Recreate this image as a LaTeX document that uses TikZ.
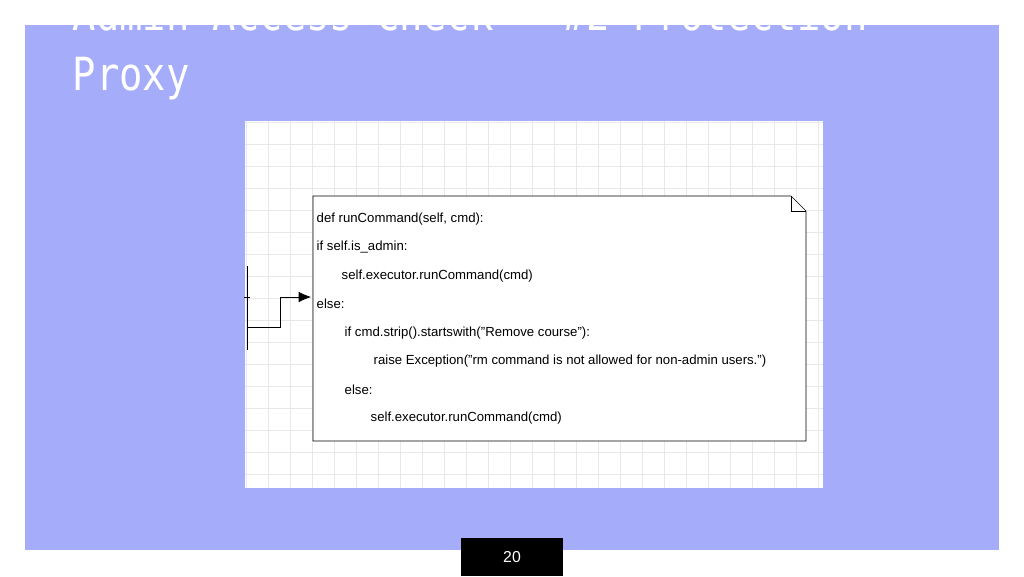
\documentclass[tikz,border=0pt]{standalone}
\usepackage{fontspec}
\setmainfont{Liberation Sans}
\newfontfamily\titlefont[FakeStretch=0.85]{DejaVu Sans Mono}
\usetikzlibrary{positioning,arrows.meta}
\definecolor{panelblue}{HTML}{A5ADFB}
\definecolor{gridgray}{HTML}{E8E8E8}
\begin{document}
\begin{tikzpicture}
[
 x=0.02cm, y=-0.02cm,
 thick,
 >={latex},
 code/.style={anchor=west,inner sep=0pt,font=\fontsize{7.5}{9}\selectfont},
 heading/.style={anchor=base west,inner sep=0pt,text=white,font=\titlefont\fontsize{26}{30}\selectfont}
]
\useasboundingbox (0,0) rectangle (1024,576);
\fill[white] (0,0) rectangle (1024,576);
\fill[panelblue] (25,25) rectangle (999,550);
% title, top line cut by the page edge
\node (title-1) [heading] at (72,30) {Admin Access Check - \#2 Protection};
\node (title-2) [heading] at (72,90) {Proxy};
\fill[white] (0,0) rectangle (1024,25);
% screenshot with grid
\fill[white] (245,121) rectangle (823,488);
\begin{scope}
\clip (245,121) rectangle (823,488);
\foreach \gx in {246,268,...,823} \draw[gridgray,thin] (\gx,121) -- (\gx,488);
\foreach \gy in {122,144,...,488} \draw[gridgray,thin] (245,\gy) -- (823,\gy);
\end{scope}
% note shape
\draw[thin,fill=white] (313,196) -- (791,196) -- (806,211) -- (806,441) -- (313,441) -- cycle;
\draw[thin] (791,196) -- (791,211) -- (806,211);
\node (l1) [code] at (316,219) {def runCommand(self, cmd):};
\node (l2) [code] at (316,247) {if self.is\_admin:};
\node (l3) [code] at (341,276) {self.executor.runCommand(cmd)};
\node (l4) [code] at (316,304) {else:};
\node (l5) [code] at (344,333) {if cmd.strip().startswith("Remove course"):};
\node (l6) [code] at (373,361) {raise Exception("rm command is not allowed for non-admin users.")};
\node (l7) [code] at (344,390) {else:};
\node (l8) [code] at (370,418) {self.executor.runCommand(cmd)};
% left edge of cut-off box and connector
\coordinate (box-top) at (247,266);
\coordinate (box-bottom) at (247,350);
\coordinate (box-out) at (247,327);
\coordinate (note-in) at (311,297);
\draw[thin] (box-top) -- (box-bottom);
\draw[thin] (244,297) -- (250,297);
\draw[thin,-{Latex[length=7pt,width=6pt]}] (box-out) -- (280,327) |- (note-in);
% page number
\fill[black] (461,538) rectangle (563,576);
\node (page-no) [text=white,font=\fontsize{9}{10}\selectfont] at (512,557) {20};
\end{tikzpicture}
\end{document}
